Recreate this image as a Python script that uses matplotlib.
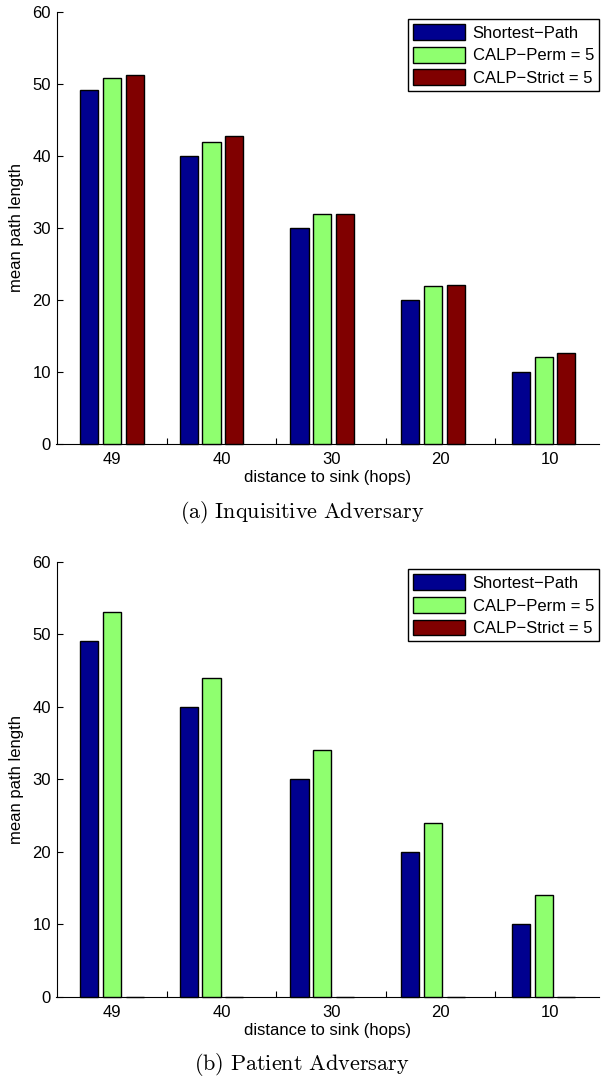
import numpy as np
import matplotlib
matplotlib.use('Agg')
import matplotlib.pyplot as plt

# distance to sink (hops) for each group of bars
distances = [49, 40, 30, 20, 10]
tick_labels = ['49', '40', '30', '20', '10']
series_names = ['Shortest\u2212Path', 'CALP\u2212Perm = 5', 'CALP\u2212Strict = 5']

# (a) Inquisitive Adversary
inq_shortest = [49.1, 40.0, 30.0, 20.0, 10.0]
inq_perm = [50.9, 41.9, 31.9, 22.0, 12.1]
inq_strict = [51.2, 42.8, 31.9, 22.1, 12.6]

# (b) Patient Adversary
pat_shortest = [49.1, 40.0, 30.0, 20.0, 10.0]
pat_perm = [53.1, 44.0, 34.0, 24.0, 14.0]
pat_strict = [0, 0, 0, 0, 0]

colors = ['#00008F', '#8FFF6F', '#800000']

plt.rcParams['font.family'] = ['Liberation Sans', 'DejaVu Sans']
plt.rcParams['mathtext.fontset'] = 'cm'

W, H = 604, 1079
fig = plt.figure(figsize=(W / 100, H / 100), dpi=100)


def draw_panel(ax, values):
    x = np.array(distances, dtype=float)
    # x axis runs right-to-left, so positive offset puts the bar on the left
    offsets = [2.05, 0.0, -2.05]
    for vals, off, col, name in zip(values, offsets, colors, series_names):
        ax.bar(x + off, vals, width=1.63, color=col, edgecolor='black',
               linewidth=1.0, label=name, zorder=3, clip_on=False)
    ax.set_xlim(54, 5)
    ax.set_ylim(0, 60)
    ax.set_yticks(np.arange(0, 61, 10))
    ticks = 49 - 4.95 * np.arange(9)
    ax.set_xticks(ticks)
    ax.set_xticklabels([tick_labels[i // 2] if i % 2 == 0 else '' for i in range(9)])
    ax.tick_params(direction='in', length=4, width=0.8, labelsize=12)
    ax.tick_params(axis='x', pad=6)
    ax.tick_params(axis='y', pad=4)
    ax.set_axisbelow(True)
    for s in ['top', 'right']:
        ax.spines[s].set_visible(False)
    for s in ['left', 'bottom']:
        ax.spines[s].set_linewidth(0.8)
    ax.set_xlabel('distance to sink (hops)', fontsize=12, labelpad=2)
    ax.set_ylabel('mean path length', fontsize=12, labelpad=6)
    leg = ax.legend(loc='upper right', bbox_to_anchor=(1.0, 0.983), borderaxespad=0,
                    fontsize=12, handlelength=3.1, handleheight=1.08,
                    fancybox=False, framealpha=1, edgecolor='black',
                    borderpad=0.3, labelspacing=0.36, handletextpad=0.48)
    leg.get_frame().set_linewidth(1.0)
    leg.set_zorder(5)


left = 56.5 / W
width = (599 - 56.5) / W

ax1 = fig.add_axes([left, 1 - 444 / H, width, 432 / H])
draw_panel(ax1, [inq_shortest, inq_perm, inq_strict])

ax2 = fig.add_axes([left, 1 - 996.7 / H, width, 434.7 / H])
draw_panel(ax2, [pat_shortest, pat_perm, pat_strict])

fig.text(0.5, 1 - 513 / H, r'$\mathrm{(a)\ Inquisitive\ Adversary}$',
         ha='center', va='center', fontsize=16)
fig.text(0.5, 1 - 1064 / H, r'$\mathrm{(b)\ Patient\ Adversary}$',
         ha='center', va='center', fontsize=16)

fig.savefig('out.png', dpi=100)
